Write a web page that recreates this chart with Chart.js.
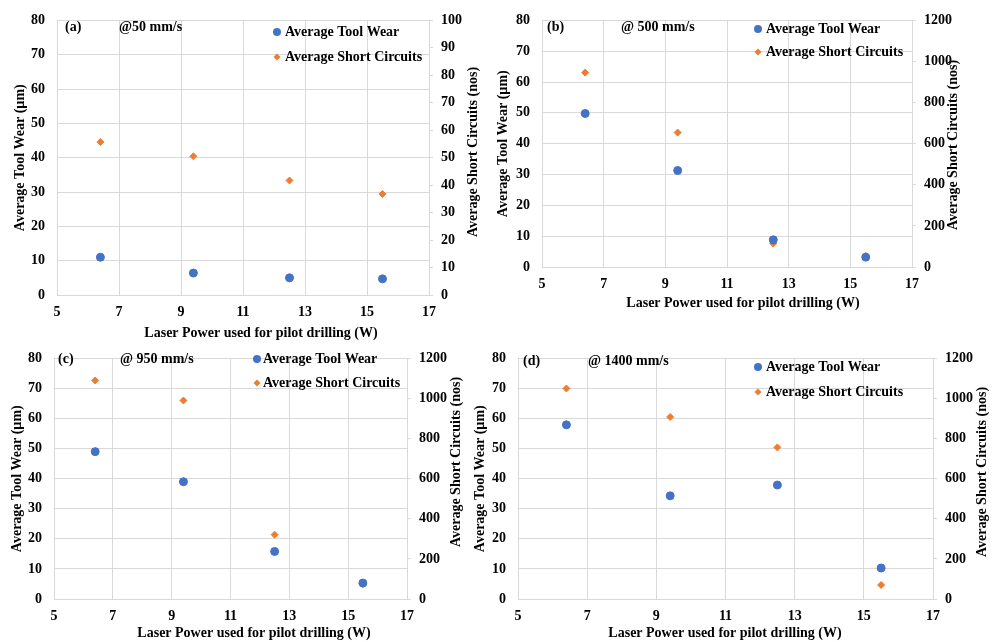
<!DOCTYPE html>
<html>
<head>
<meta charset="utf-8">
<script src="https://cdn.jsdelivr.net/npm/chart.js@4.4.1/dist/chart.umd.min.js"></script>
<style>
  body { margin: 0; background: #fff; width: 998px; height: 642px; position: relative; overflow: hidden; }
  canvas { position: absolute; }
</style>
</head>
<body>
<canvas id="chartA"></canvas>
<canvas id="chartB"></canvas>
<canvas id="chartC"></canvas>
<canvas id="chartD"></canvas>
<script>
// data
const laserPower = [6.4, 9.4, 12.5, 15.5];

const toolWearA = [11.0, 6.4, 5.0, 4.7];
const shortCircA = [55.7, 50.5, 41.7, 36.8];

const toolWearB = [49.8, 31.3, 8.8, 3.2];
const shortCircB = [946, 654, 114, 54];

const toolWearC = [49.0, 39.0, 15.8, 5.3];
const shortCircC = [1090, 990, 321, 74];

const toolWearD = [57.9, 34.3, 37.9, 10.3];
const shortCircD = [1050, 908, 756, 70];

const panelLetters = ['(a)', '(b)', '(c)', '(d)'];
const speedLabels = ['@50 mm/s', '@ 500 mm/s', '@ 950 mm/s', '@ 1400 mm/s'];
const seriesNames = ['Average Tool Wear', 'Average Short Circuits'];
const rightMax = [100, 1200, 1200, 1200];
const rightStep = [10, 200, 200, 200];

const xTitleText = 'Laser Power used for pilot drilling (W)';
const leftTitleText = 'Average Tool Wear (µm)';
const rightTitleText = 'Average Short Circuits (nos)';

const BLUE = '#4472C4';
const ORANGE = '#ED7D31';
const GRID = '#d9d9d9';
const FONT = '"Liberation Serif", "Times New Roman", serif';

// page layout of each panel (canvas box, plot area, text spots), page pixels
const panels = [
  { id: 'chartA', box: [0, 0, 490, 345], plot: [57, 16, 429, 295],
    wear: toolWearA, circ: shortCircA,
    letter: [65, 27], speed: [119, 27], legend: [277, 32, 57, 285],
    leftTitleX: 20, rightTitle: [473, 152], xTitle: [261, 333] },
  { id: 'chartB', box: [490, 0, 508, 315], plot: [542, 15, 912, 267],
    wear: toolWearB, circ: shortCircB,
    letter: [547, 27], speed: [621, 27], legend: [758, 29, 52, 766],
    leftTitleX: 503, rightTitle: [953, 145], xTitle: [743, 303] },
  { id: 'chartC', box: [0, 338, 470, 304], plot: [54, 351, 407, 599],
    wear: toolWearC, circ: shortCircC,
    letter: [58, 359], speed: [120, 359], legend: [257, 359, 383, 263],
    leftTitleX: 17.5, rightTitle: [456, 462], xTitle: [254, 633] },
  { id: 'chartD', box: [470, 338, 528, 304], plot: [518, 348, 933, 599],
    wear: toolWearD, circ: shortCircD,
    letter: [523, 361], speed: [588, 361], legend: [758, 367, 392, 766],
    leftTitleX: 480, rightTitle: [982, 472], xTitle: [725, 633] }
];

function toPoints(ys) {
  return laserPower.map((x, i) => ({ x: x, y: ys[i] }));
}

// draws the texts and legend Excel put inside / around the plot
const decorPlugin = {
  id: 'decor',
  afterDraw(chart, args, opts) {
    const p = opts.panel;
    const ox = p.box[0], oy = p.box[1];
    const ctx = chart.ctx;
    ctx.save();
    ctx.fillStyle = '#000';
    ctx.font = 'bold 14px ' + FONT;
    ctx.textBaseline = 'middle';
    ctx.textAlign = 'left';
    ctx.fillText(panelLetters[opts.idx], p.letter[0] - ox, p.letter[1] - oy);
    ctx.fillText(speedLabels[opts.idx], p.speed[0] - ox, p.speed[1] - oy);

    // legend
    const lx = p.legend[0] - ox;
    const y1 = p.legend[1] - oy, y2 = p.legend[2] - oy;
    const tx = p.legend[3] - ox;
    ctx.fillStyle = BLUE;
    ctx.beginPath();
    ctx.arc(lx, y1, 4, 0, Math.PI * 2);
    ctx.fill();
    ctx.fillStyle = ORANGE;
    ctx.beginPath();
    ctx.moveTo(lx - 3.5, y2);
    ctx.lineTo(lx, y2 - 3.5);
    ctx.lineTo(lx + 3.5, y2);
    ctx.lineTo(lx, y2 + 3.5);
    ctx.closePath();
    ctx.fill();
    ctx.fillStyle = '#000';
    ctx.fillText(seriesNames[0], tx, y1);
    ctx.fillText(seriesNames[1], tx, y2);

    // x title
    ctx.textAlign = 'center';
    ctx.fillText(xTitleText, p.xTitle[0] - ox, p.xTitle[1] - oy);

    // right title, reads bottom to top
    ctx.translate(p.rightTitle[0] - ox, p.rightTitle[1] - oy);
    ctx.rotate(-Math.PI / 2);
    ctx.fillText(rightTitleText, 0, 0);
    ctx.restore();
  }
};

panels.forEach((p, idx) => {
  const cv = document.getElementById(p.id);
  cv.style.left = p.box[0] + 'px';
  cv.style.top = p.box[1] + 'px';
  cv.width = p.box[2];
  cv.height = p.box[3];

  const leftW = p.plot[0] - p.box[0];
  const rightW = p.box[0] + p.box[2] - p.plot[2];
  const bottomH = p.box[1] + p.box[3] - p.plot[3];
  const topPad = p.plot[1] - p.box[1];
  const tickFont = { family: FONT, size: 14, weight: 'bold' };
  const plain = (v) => String(v); // no thousands separator, like Excel

  new Chart(cv.getContext('2d'), {
    type: 'scatter',
    data: {
      datasets: [
        { label: seriesNames[0], data: toPoints(p.wear), yAxisID: 'y',
          backgroundColor: BLUE, borderColor: BLUE, borderWidth: 1,
          pointRadius: 4, pointStyle: 'circle' },
        { label: seriesNames[1], data: toPoints(p.circ), yAxisID: 'y1',
          backgroundColor: ORANGE, borderColor: ORANGE, borderWidth: 1,
          pointRadius: 3.5, pointStyle: 'rectRot' }
      ]
    },
    options: {
      responsive: false,
      animation: false,
      layout: { padding: { left: 0, right: 0, bottom: 0, top: topPad } },
      plugins: {
        legend: { display: false },
        tooltip: { enabled: false },
        decor: { panel: p, idx: idx }
      },
      scales: {
        x: {
          type: 'linear', position: 'bottom', min: 5, max: 17,
          ticks: { stepSize: 2, color: '#000', font: tickFont, padding: 9, callback: plain },
          grid: { color: GRID, drawTicks: false },
          border: { color: GRID },
          afterFit: (s) => { s.height = bottomH; }
        },
        y: {
          position: 'left', min: 0, max: 80,
          ticks: { stepSize: 10, color: '#000', font: tickFont, padding: 12, callback: plain },
          grid: { color: GRID, drawTicks: false },
          border: { color: GRID },
          title: { display: true, text: leftTitleText, color: '#000',
                   font: { family: FONT, size: 14, weight: 'bold' },
                   padding: { top: p.leftTitleX - p.box[0] - 8.4, bottom: 0 } },
          afterFit: (s) => { s.width = leftW; }
        },
        y1: {
          position: 'right', min: 0, max: rightMax[idx],
          ticks: { stepSize: rightStep[idx], color: '#000', font: tickFont, padding: 8, callback: plain },
          grid: { drawOnChartArea: false, color: GRID, tickLength: 4 },
          border: { color: GRID },
          afterFit: (s) => { s.width = rightW; }
        }
      }
    },
    plugins: [decorPlugin]
  });
});
</script>
</body>
</html>
